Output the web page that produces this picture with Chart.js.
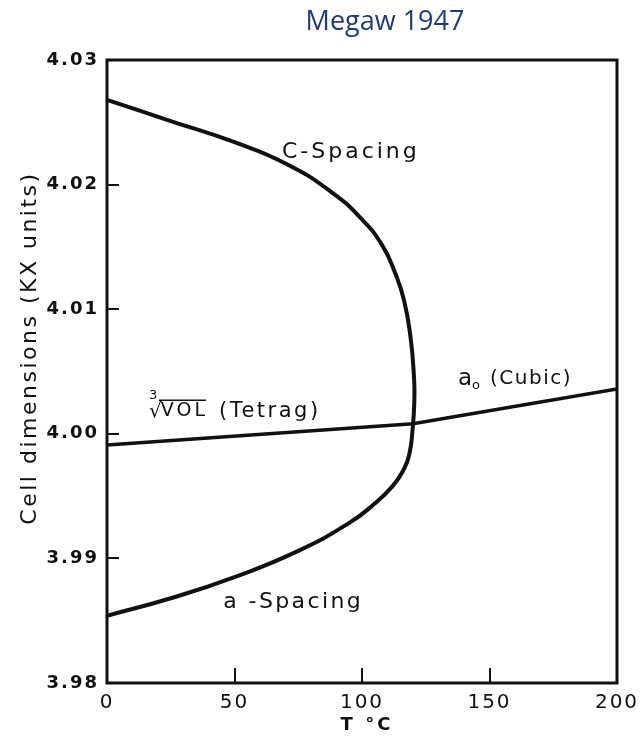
<!DOCTYPE html>
<html>
<head>
<meta charset="utf-8">
<title>Megaw 1947</title>
<script src="https://cdn.jsdelivr.net/npm/chart.js@4.4.1/dist/chart.umd.min.js"></script>
<style>
  html, body { margin: 0; padding: 0; background: #fff; }
  #wrap { width: 640px; height: 737px; }
</style>
</head>
<body>
<div id="wrap"><canvas id="chart" width="640" height="737"></canvas></div>
<script>
// Kurve c-Spacing -> a-Spacing (eine durchgehende Linie, von oben nach unten gelesen)
const spacingTemp = [0, 25, 50, 70, 88, 100, 108, 113, 116.5, 119, 120.4, 120.5, 119.9, 118.5, 116, 112, 105, 95, 75, 50, 25, 0];
const spacingWert = [4.0268, 4.0251, 4.0234, 4.0217, 4.0194, 4.0172, 4.0151, 4.0129, 4.0107, 4.0078, 4.0045, 4.0025, 4.0005, 3.9983, 3.9970, 3.9958, 3.9944, 3.99285, 3.9906, 3.9885, 3.9868, 3.9854];

// Kubikwurzel des Volumens (tetragonal) und a0 (kubisch)
const volTemp = [0, 120, 200];
const volWert = [3.9991, 4.0008, 4.0036];

const xTicks = [0, 50, 100, 150, 200];
const yTicks = [3.98, 3.99, 4.00, 4.01, 4.02, 4.03];

const schwarz = "#111111";
const schrift = '"DejaVu Sans", sans-serif';

function punkte(xs, ys) {
  return xs.map((t, i) => ({ x: t, y: ys[i] }));
}

function schreibe(ctx, text, x, y, font, abstand, align) {
  ctx.font = font;
  ctx.letterSpacing = abstand + "px";
  ctx.textAlign = align || "left";
  ctx.textBaseline = "middle";
  ctx.fillText(text, x, y);
  return ctx.measureText(text).width;
}

const beschriftung = {
  id: "beschriftung",
  beforeDraw(chart) {
    chart.ctx.letterSpacing = "2px";
  },
  afterDraw(chart) {
    const { ctx, chartArea: a, scales: { x, y } } = chart;
    ctx.save();
    ctx.strokeStyle = schwarz;
    ctx.fillStyle = schwarz;

    // Rahmen
    ctx.lineWidth = 3;
    ctx.strokeRect(a.left, a.top, a.right - a.left, a.bottom - a.top);

    // Ticks nach innen
    ctx.lineWidth = 2;
    ctx.beginPath();
    yTicks.slice(1, -1).forEach(v => {
      const py = Math.round(y.getPixelForValue(v));
      ctx.moveTo(a.left, py);
      ctx.lineTo(a.left + 12, py);
    });
    xTicks.slice(1, -1).forEach(v => {
      const px = Math.round(x.getPixelForValue(v));
      ctx.moveTo(px, a.bottom);
      ctx.lineTo(px, a.bottom - 15);
    });
    ctx.stroke();

    // Kurvenbeschriftungen
    schreibe(ctx, "C-Spacing", x.getPixelForValue(68.6), y.getPixelForValue(4.0226), "22px " + schrift, 3);
    schreibe(ctx, "a -Spacing", x.getPixelForValue(45.6), y.getPixelForValue(3.9865), "22px " + schrift, 2.4);

    // ³√VOL (Tetrag)
    let px = x.getPixelForValue(16.5);
    let py = y.getPixelForValue(4.0018);
    schreibe(ctx, "3", px, py - 16, "13px " + schrift, 0);
    let w = schreibe(ctx, "√", px, py, "20px " + schrift, 0);
    const vx = px + w - 1;
    w = schreibe(ctx, "VOL", vx, py, "19px " + schrift, 3);
    ctx.lineWidth = 1.5;
    ctx.beginPath();
    ctx.moveTo(vx - 2, py - 11);
    ctx.lineTo(vx + w - 2, py - 11);
    ctx.stroke();
    schreibe(ctx, "(Tetrag)", 219, py, "21px " + schrift, 2.5);

    // a0 (Cubic)
    px = x.getPixelForValue(137.6);
    py = y.getPixelForValue(4.0044);
    w = schreibe(ctx, "a", px, py, "23px " + schrift, 0);
    schreibe(ctx, "o", px + w, py + 7, "13px " + schrift, 0);
    schreibe(ctx, "(Cubic)", 490, py, "20px " + schrift, 1.5);

    // Achsentitel
    schreibe(ctx, "T °C", 367, 725, "bold 18px " + schrift, 3, "center");
    ctx.save();
    ctx.translate(30, 348);
    ctx.rotate(-Math.PI / 2);
    schreibe(ctx, "Cell dimensions (KX units)", 0, 0, "22px " + schrift, 2.5, "center");
    ctx.restore();

    // Titel
    ctx.fillStyle = "#1f3a7a";
    schreibe(ctx, "Megaw 1947", 385, 22, '27px "Open Sans", sans-serif', 0, "center");
    ctx.restore();
  }
};

new Chart(document.getElementById("chart").getContext("2d"), {
  type: "scatter",
  data: {
    datasets: [
      {
        label: "c- / a-Spacing",
        data: punkte(spacingTemp, spacingWert),
        showLine: true,
        borderColor: schwarz,
        borderWidth: 4,
        tension: 0.5,
        pointRadius: 0,
      },
      {
        label: "VOL (Tetrag) / a0 (Cubic)",
        data: punkte(volTemp, volWert),
        showLine: true,
        borderColor: schwarz,
        borderWidth: 3.5,
        tension: 0,
        pointRadius: 0,
      }
    ]
  },
  options: {
    responsive: false,
    animation: false,
    events: [],
    layout: { padding: { top: 60, right: 23, left: 0, bottom: 0 } },
    plugins: {
      legend: { display: false },
      tooltip: { enabled: false },
    },
    scales: {
      x: {
        type: "linear",
        min: 0,
        max: 200,
        afterBuildTicks: s => { s.ticks = xTicks.map(v => ({ value: v })); },
        afterFit: s => { s.height = 54; s.paddingLeft = 0; s.paddingRight = 0; },
        grid: { display: false, drawTicks: false },
        border: { display: false },
        ticks: {
          color: schwarz,
          padding: 8,
          maxRotation: 0,
          font: { family: schrift, size: 20 },
        },
      },
      y: {
        type: "linear",
        min: 3.98,
        max: 4.03,
        afterBuildTicks: s => { s.ticks = yTicks.map(v => ({ value: v })); },
        afterFit: s => { s.width = 107; s.paddingTop = 0; s.paddingBottom = 0; },
        grid: { display: false, drawTicks: false },
        border: { display: false },
        ticks: {
          color: schwarz,
          padding: 8,
          font: { family: schrift, size: 18, weight: "bold" },
          callback: v => v.toFixed(2),
        },
      }
    }
  },
  plugins: [beschriftung]
});
</script>
</body>
</html>
